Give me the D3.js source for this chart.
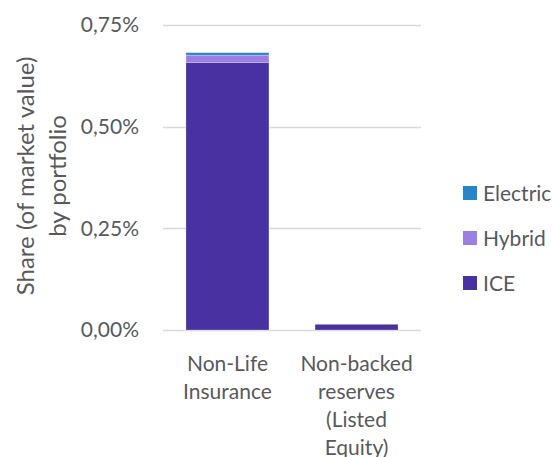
<!DOCTYPE html>
<html><head><meta charset="utf-8">
<script src="https://cdn.jsdelivr.net/npm/d3@7"></script>
<style>
html,body{margin:0;padding:0;background:#fff;overflow:hidden;}
svg{display:block;font-family:Lato,"Open Sans",sans-serif;}
</style></head>
<body>
<svg id="chart" width="552" height="457"></svg>
<script>
const categories = ["Non-Life Insurance", "Non-backed reserves (Listed Equity)"];
const categoryLines = [["Non-Life", "Insurance"], ["Non-backed", "reserves", "(Listed", "Equity)"]];
const seriesNames = ["ICE", "Hybrid", "Electric"];
const iceValues = [0.658, 0.014];
const hybridValues = [0.018, 0.0];
const electricValues = [0.006, 0.0];
const yTicks = [0, 0.25, 0.5, 0.75];
const legendOrder = ["Electric", "Hybrid", "ICE"];
const colors = {ICE: "#4a31a1", Hybrid: "#9b80e2", Electric: "#2a85c8"};

(function () {
const svg = d3.select("#chart");
const plotLeft = 163, plotRight = 421, plotTop = 25, plotBottom = 330;
const textColor = "#595959";
const fontSize = 21;

const x = d3.scaleBand().domain(categories).range([plotLeft, plotRight]).paddingInner(0.357).paddingOuter(0.178);
const y = d3.scaleLinear().domain([0, 0.75]).range([plotBottom, plotTop]);

const loc = d3.formatLocale({decimal: ",", thousands: ".", grouping: [3], currency: ["", "€"]});
const fmt = v => loc.format(".2f")(v) + "%";

// gridlines
svg.append("g").selectAll("line").data(yTicks).join("line")
  .attr("x1", plotLeft).attr("x2", plotRight)
  .attr("y1", d => Math.round(y(d)) + 0.5).attr("y2", d => Math.round(y(d)) + 0.5)
  .attr("stroke", "#d9d9d9").attr("stroke-width", 1.3);

// y axis labels
const yAxis = d3.axisLeft(y).tickValues(yTicks).tickFormat(fmt).tickSize(0).tickPadding(24);
const ya = svg.append("g").attr("transform", `translate(${plotLeft},0)`).call(yAxis);
ya.select(".domain").remove();
ya.selectAll("text").attr("font-size", fontSize).attr("fill", textColor).attr("font-family", "Lato");

// stacked data
const rows = categories.map((c, i) => ({cat: c, ICE: iceValues[i], Hybrid: hybridValues[i], Electric: electricValues[i]}));
const stack = d3.stack().keys(seriesNames)(rows);
svg.append("g").selectAll("g").data(stack).join("g")
  .attr("fill", d => colors[d.key])
  .selectAll("rect").data(d => d).join("rect")
  .attr("x", d => x(d.data.cat))
  .attr("width", x.bandwidth())
  .attr("y", d => y(d[1]))
  .attr("height", d => Math.max(0, y(d[0]) - y(d[1])))
  .attr("stroke", "#ffffff").attr("stroke-width", 0.4).attr("stroke-opacity", 0.6);

// x labels
const xg = svg.append("g");
categories.forEach((c, i) => {
  const cx = x(c) + x.bandwidth() / 2;
  const t = xg.append("text")
    .attr("x", cx)
    .attr("text-anchor", "middle")
    .attr("font-size", fontSize).attr("fill", textColor);
  categoryLines[i].forEach((ln, j) => {
    t.append("tspan").attr("x", cx).attr("y", 371 + j * 28).text(ln);
  });
});

// y title
const yt = svg.append("text")
  .attr("transform", "translate(0,176) rotate(-90)")
  .attr("text-anchor", "middle")
  .attr("font-size", 24).attr("fill", textColor);
yt.append("tspan").attr("x", 0).attr("y", 34).text("Share (of market value)");
yt.append("tspan").attr("x", 0).attr("y", 66).text("by portfolio");

// legend
const legendY = d3.scalePoint().domain(legendOrder).range([193, 283]);
const lg = svg.append("g").selectAll("g").data(legendOrder).join("g")
  .attr("transform", d => `translate(463,${legendY(d)})`);
lg.append("rect").attr("x", 0).attr("y", -7).attr("width", 14).attr("height", 14).attr("fill", d => colors[d]);
lg.append("text").attr("x", 20).attr("y", 7.5).attr("font-size", fontSize).attr("fill", textColor).text(d => d);
})();
</script>
</body></html>
